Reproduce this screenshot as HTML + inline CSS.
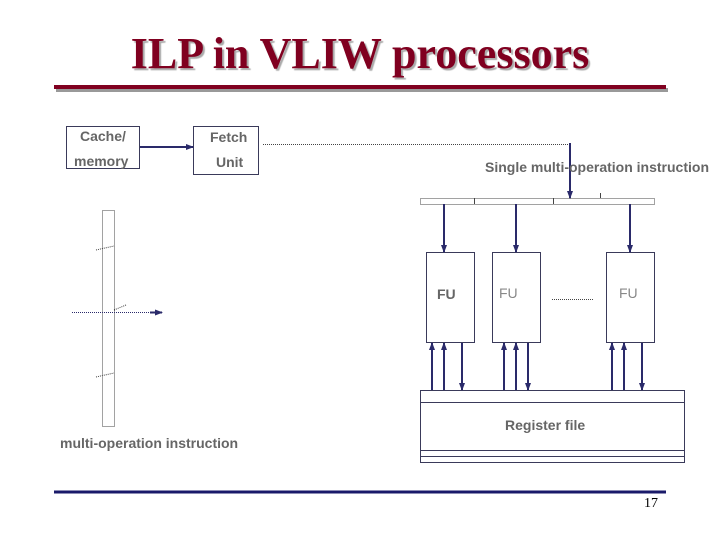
<!DOCTYPE html>
<html><head><style>
body{margin:0;width:720px;height:540px;background:#fff;overflow:hidden;position:relative;font-family:"Liberation Sans",sans-serif}
.t{position:absolute;color:#666;font-size:14px;font-weight:bold;white-space:nowrap}
</style></head><body>
<div style="position:absolute;left:0;width:720px;top:28px;text-align:center;font-family:'Liberation Serif',serif;font-weight:bold;font-size:44px;color:#800020;text-shadow:2px 2px 1px #aaa">ILP in VLIW processors</div>
<svg width="720" height="540" style="position:absolute;left:0;top:0">
<defs><marker id="a" markerWidth="8" markerHeight="8" refX="7" refY="4" orient="auto" markerUnits="userSpaceOnUse"><path d="M0,1 L8,4 L0,7Z" fill="#2a2a6a"/></marker></defs>
<line x1="56" y1="90" x2="668" y2="90" stroke="#999" stroke-width="4"/>
<line x1="54" y1="87" x2="666" y2="87" stroke="#800020" stroke-width="4"/>
<line x1="54" y1="492" x2="666" y2="492" stroke="#1a1a6a" stroke-width="3"/>
<g fill="none" stroke="#3a3a5a" stroke-width="1">
<rect x="66.5" y="126.5" width="73" height="42"/>
<rect x="193.5" y="126.5" width="65" height="48"/>
<rect x="426.5" y="252.5" width="48" height="90"/>
<rect x="492.5" y="252.5" width="48" height="90"/>
<rect x="606.5" y="252.5" width="48" height="90"/>
<rect x="420.5" y="390.5" width="264" height="72"/>
<line x1="420" y1="402.5" x2="684" y2="402.5"/>
<line x1="420" y1="450.5" x2="684" y2="450.5"/>
<line x1="420" y1="456.5" x2="684" y2="456.5"/>
</g>
<g fill="none" stroke="#444" stroke-width="1" stroke-dasharray="1,1">
<line x1="263" y1="144.5" x2="570" y2="144.5"/>
<rect x="420.5" y="198.5" width="234" height="6"/>
<rect x="102.5" y="210.5" width="12" height="216"/>
<line x1="96" y1="250" x2="114" y2="246"/>
<line x1="114" y1="310" x2="126" y2="305"/>
<line x1="96" y1="377" x2="114" y2="373"/>
<line x1="72" y1="312.5" x2="156" y2="312.5" stroke="#2a2a6a"/>
<line x1="552" y1="299.5" x2="594" y2="299.5"/>
</g>
<g stroke="#444" stroke-width="1"><line x1="474.5" y1="198" x2="474.5" y2="204"/><line x1="553.5" y1="198" x2="553.5" y2="204"/><line x1="600.5" y1="193" x2="600.5" y2="198"/></g>
<g stroke="#2a2a6a" stroke-width="2" marker-end="url(#a)">
<line x1="140" y1="147" x2="193" y2="147"/>
<line x1="150" y1="312.5" x2="162" y2="312.5"/>
<line x1="570" y1="143" x2="570" y2="198"/>
<line x1="444" y1="204" x2="444" y2="252"/>
<line x1="516" y1="204" x2="516" y2="252"/>
<line x1="630" y1="204" x2="630" y2="252"/>
<line x1="432" y1="390" x2="432" y2="343"/><line x1="444" y1="390" x2="444" y2="343"/><line x1="462" y1="343" x2="462" y2="390"/>
<line x1="504" y1="390" x2="504" y2="343"/><line x1="516" y1="390" x2="516" y2="343"/><line x1="528" y1="343" x2="528" y2="390"/>
<line x1="612" y1="390" x2="612" y2="343"/><line x1="624" y1="390" x2="624" y2="343"/><line x1="642" y1="343" x2="642" y2="390"/>
</g>
</svg>
<div class="t" style="left:80px;top:128px">Cache/</div>
<div class="t" style="left:74px;top:153px">memory</div>
<div class="t" style="left:210px;top:129px">Fetch</div>
<div class="t" style="left:216px;top:154px">Unit</div>
<div class="t" style="left:485px;top:159px">Single multi-operation instruction</div>
<div class="t" style="left:437px;top:286px">FU</div>
<div class="t" style="left:499px;top:285px;color:#888;font-weight:normal">FU</div>
<div class="t" style="left:619px;top:285px;color:#888;font-weight:normal">FU</div>
<div class="t" style="left:505px;top:417px">Register file</div>
<div class="t" style="left:60px;top:435px">multi-operation instruction</div>
<div style="position:absolute;left:644px;top:496px;font-family:'Liberation Serif',serif;font-size:14px">17</div>
</body></html>
